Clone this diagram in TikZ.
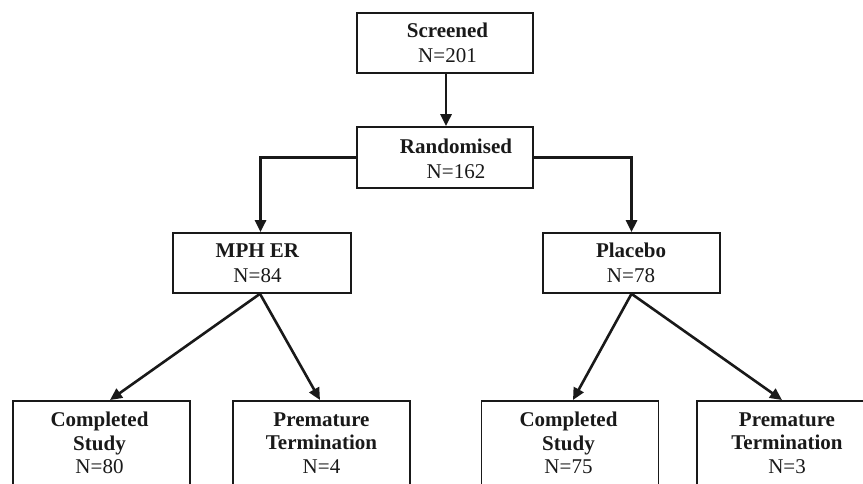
\documentclass[tikz,border=0pt]{standalone}
\usepackage{fontspec}
\setmainfont{Liberation Serif}
\usetikzlibrary{arrows.meta}
\begin{document}
\begin{tikzpicture}[x=1pt,y=-1pt,
  box/.style={draw=black!90, line width=1.6pt, minimum width=177pt, minimum height=60pt, inner sep=0pt},
  lowbox/.style={draw=black!90, line width=1.6pt, minimum width=177pt, minimum height=140pt, inner sep=0pt, anchor=north},
  txt/.style={align=center, inner sep=0pt, font=\fontsize{21}{25}\selectfont, text=black!90},
  txtb/.style={align=center, inner sep=0pt, font=\fontsize{21}{23.5}\selectfont, text=black!90},
  arr/.style={draw=black!90, line width=2.6pt, -{Triangle[length=12pt,width=11pt]}}
]
\useasboundingbox (0,0) rectangle (863,484);
\clip (0,0) rectangle (863,484);

% boxes
\node[box, minimum width=176pt] (scr) at (445,43) {};
\node[box, minimum width=176pt, minimum height=61pt] (ran) at (445,157.5) {};
\node[box, minimum width=178pt] (mph) at (262,263) {};
\node[box] (pla) at (631.5,263) {};
\node[lowbox] (cl) at (101.5,400) {};
\node[lowbox] (pl) at (321.5,400) {};
\node[lowbox] (cr) at (570,400) {};
\node[lowbox, minimum width=190pt] (pr) at (792,400) {};

% texts
\node[txt] (scrt) at (447.5,42.5) {\textbf{Screened}\\N=201};
\node[txt] (rant) at (456,158.5) {\textbf{Randomised}\\N=162};
\node[txt] (mpht) at (257.5,263) {\textbf{MPH ER}\\N=84};
\node[txt] (plat) at (631,263) {\textbf{Placebo}\\N=78};
\node[txtb] (clt) at (99.5,443) {\textbf{Completed}\\\textbf{Study}\\N=80};
\node[txtb] (plt) at (321.5,443) {\textbf{Premature}\\\textbf{Termination}\\N=4};
\node[txtb] (crt) at (568.5,443) {\textbf{Completed}\\\textbf{Study}\\N=75};
\node[txtb] (prt) at (787,443) {\textbf{Premature}\\\textbf{Termination}\\N=3};

% connectors
\draw[arr] ([xshift=1pt]scr.south) -- ([xshift=1pt]ran.north);
\draw[arr] (ran.west) -| ([xshift=-1.5pt]mph.north);
\draw[arr] (ran.east) -| (pla.north);
\draw[arr] ([xshift=-2pt]mph.south) -- ([xshift=8.5pt]cl.north);
\draw[arr] ([xshift=-2pt]mph.south) -- ([xshift=-1.5pt]pl.north);
\draw[arr] (pla.south) -- ([xshift=3pt]cr.north);
\draw[arr] (pla.south) -- ([xshift=-10pt]pr.north);
\end{tikzpicture}
\end{document}
